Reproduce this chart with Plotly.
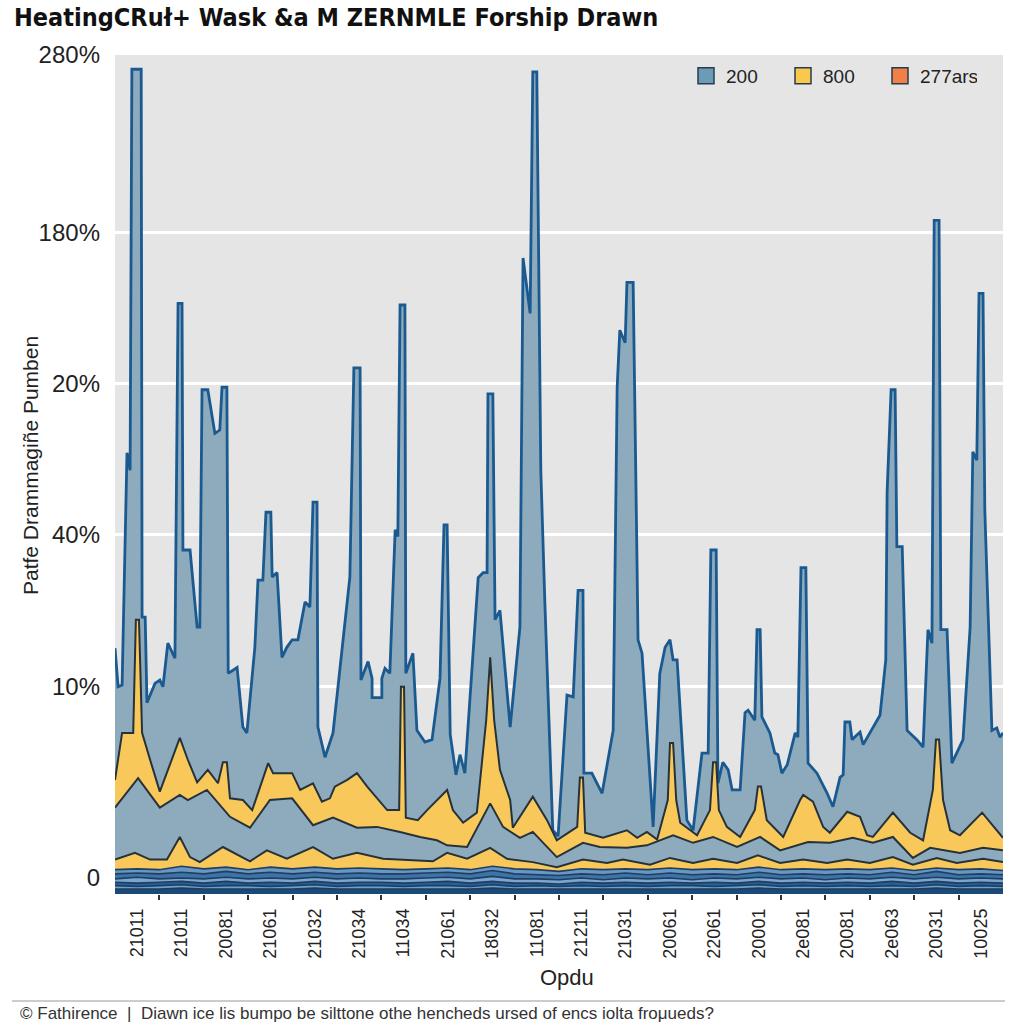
import plotly.graph_objects as go

# ---------------- data ----------------
x_tick_pos = [5, 15, 25, 35, 45, 55, 65, 75, 85, 95, 105, 115, 125, 135, 145, 155, 165, 175, 185, 195]
x_tick_labels = ["21011", "21011", "20081", "21061", "21032", "21034", "11034", "21061", "18032", "11081",
                 "21211", "21031", "20061", "22061", "20001", "2e081", "20081", "2e063", "20031", "10025"]
x_minor_ticks = [10, 20, 30, 40, 50, 60, 70, 80, 90, 100, 110, 120, 130, 140, 150, 160, 170, 180, 190]

y_tick_pos = [1.9, 24.7, 42.8, 60.8, 78.8, 100]
y_tick_labels = ["0", "10%", "40%", "20%", "180%", "280%"]

legend_names = ["200", "800", "277ars"]
legend_colors = ["#6b9cb6", "#f9c94e", "#f08048"]

# total envelope ("200") : (x, value)
total_pts = [(0, 29.3), (0.7, 24.7), (1.6, 24.9), (2.7, 52.6), (3.4, 50.5), (3.8, 98.3), (5.9, 98.3), (6.1, 33.0),
             (6.8, 33.0), (7.2, 22.8), (9.0, 25.1), (10.1, 25.5), (10.8, 24.7), (11.9, 29.9), (13.5, 28.1),
             (14.2, 70.4), (15.1, 70.4), (15.3, 41.0), (16.9, 41.0), (18.5, 31.8), (19.1, 31.8), (19.6, 60.1),
             (20.9, 60.1), (22.5, 54.9), (23.6, 55.3), (24.1, 60.4), (25.2, 60.4), (25.5, 26.3), (27.5, 27.0),
             (28.8, 19.9), (29.7, 19.2), (31.5, 29.4), (32.2, 37.4), (33.3, 37.4), (34.0, 45.5), (35.1, 45.5),
             (35.4, 37.8), (36.5, 38.3), (37.6, 28.2), (38.7, 29.4), (39.9, 30.3), (41.2, 30.3), (42.8, 34.8),
             (43.9, 34.2), (44.6, 46.7), (45.5, 46.7), (45.7, 19.9), (47.3, 16.3), (49.1, 19.2), (52.9, 37.8),
             (53.8, 62.7), (55.2, 62.7), (55.4, 25.5), (57.0, 27.7), (57.9, 25.7), (57.9, 23.4), (60.1, 23.4),
             (60.1, 25.7), (60.8, 26.9), (61.9, 26.3), (63.1, 43.4), (63.7, 42.6), (64.2, 70.2), (65.3, 70.2),
             (65.5, 26.3), (67.1, 28.7), (68.0, 19.5), (69.8, 18.1), (71.4, 18.4), (73.2, 25.7), (74.1, 44.0),
             (74.8, 44.0), (75.5, 19.0), (76.8, 14.2), (77.7, 16.6), (78.8, 14.4), (81.8, 37.7), (82.9, 38.3),
             (83.8, 38.3), (84.0, 59.6), (85.1, 59.6), (85.6, 32.7), (86.7, 33.8), (89.0, 19.9), (91.2, 31.8),
             (91.9, 75.8), (93.5, 69.2), (94.1, 98.0), (95.0, 98.0), (95.9, 50.5), (96.8, 35.0), (98.6, 7.6),
             (99.8, 6.9), (101.8, 23.7), (103.2, 23.5), (104.3, 36.2), (105.4, 36.2), (105.6, 14.4), (107.4, 14.4),
             (108.6, 13.2), (109.7, 12.0), (112.2, 19.5), (113.1, 60.4), (113.7, 67.2), (114.9, 65.7),
             (115.3, 72.9), (116.7, 72.9), (117.6, 38.4), (117.8, 30.3), (118.7, 28.7), (121.2, 8.0),
             (122.7, 26.3), (123.9, 29.4), (125.0, 30.3), (125.7, 27.9), (126.6, 27.9), (128.8, 8.8), (130.2, 7.6),
             (132.2, 16.8), (133.6, 16.8), (134.2, 41.0), (135.4, 41.0), (135.8, 13.2), (136.9, 15.7),
             (138.1, 14.8), (139.0, 12.4), (140.8, 12.4), (141.9, 21.6), (142.6, 21.9), (144.1, 20.7),
             (144.6, 31.5), (145.3, 31.5), (145.7, 21.1), (147.5, 19.2), (148.6, 16.8), (149.3, 16.6),
             (150.2, 14.4), (151.4, 15.4), (153.2, 19.2), (153.8, 18.7), (154.5, 38.9), (155.6, 38.9),
             (156.1, 15.6), (158.1, 14.4), (160.4, 12.0), (161.7, 10.4), (163.3, 13.9), (164.0, 14.2),
             (164.4, 20.5), (165.5, 20.5), (166.0, 18.4), (167.8, 19.3), (168.5, 17.8), (172.3, 21.3),
             (173.6, 27.9), (173.9, 47.9), (174.8, 60.1), (175.7, 60.1), (176.1, 41.4), (177.3, 41.4),
             (178.4, 19.5), (180.6, 18.4), (182.0, 17.5), (183.1, 31.5), (184.0, 29.9), (184.5, 80.3),
             (185.6, 80.3), (186.0, 31.5), (187.4, 31.5), (188.5, 15.6), (191.0, 18.4), (192.6, 31.8),
             (193.2, 52.7), (194.1, 51.7), (194.6, 71.6), (195.5, 71.6), (195.9, 45.8), (197.5, 19.5),
             (198.6, 19.8), (199.3, 18.7), (200, 19.2)]

# upper yellow band top
upper_yellow_pts = [(0, 13.6), (1.6, 19.2), (4.1, 19.2), (4.7, 32.7), (5.4, 32.7), (6.1, 19.2), (7.9, 16.0),
                    (10.1, 12.2), (14.6, 18.6), (16.4, 16.0), (18.5, 13.3), (20.9, 14.8), (23.2, 13.2),
                    (24.3, 15.7), (25.2, 15.7), (25.9, 11.4), (28.8, 11.2), (30.9, 10.0), (34.5, 15.6),
                    (35.6, 14.4), (39.9, 14.4), (41.7, 12.4), (44.6, 13.2), (46.6, 11.0), (48.4, 11.4),
                    (49.5, 12.8), (52.3, 13.6), (54.5, 14.4), (56.8, 12.8), (61.3, 10.0), (64.0, 10.0),
                    (64.4, 24.7), (65.1, 24.7), (65.5, 9.1), (68.2, 8.8), (70.3, 10.0), (74.8, 12.4),
                    (76.1, 10.0), (78.4, 8.5), (81.5, 9.7), (83.6, 20.7), (84.5, 28.2), (85.4, 20.7),
                    (86.7, 14.8), (89.0, 11.2), (89.6, 7.9), (94.1, 11.6), (97.3, 8.8), (99.5, 6.4),
                    (104.1, 8.0), (104.3, 10.0), (104.7, 13.9), (105.4, 13.9), (105.9, 7.3), (109.9, 6.7),
                    (115.3, 7.6), (117.6, 6.7), (119.8, 7.4), (122.1, 6.5), (124.5, 11.2), (125.0, 18.0),
                    (125.7, 18.0), (126.4, 11.2), (127.3, 8.5), (131.1, 7.0), (134.0, 10.0), (134.7, 15.7),
                    (135.4, 15.7), (136.0, 10.0), (137.8, 8.0), (140.8, 6.8), (144.1, 10.0), (144.8, 12.8),
                    (145.5, 12.8), (146.8, 8.8), (150.5, 6.8), (154.3, 11.2), (155.0, 11.8), (157.2, 11.0),
                    (159.5, 8.0), (161.0, 7.3), (164.9, 9.8), (167.8, 9.2), (169.4, 7.0), (170.7, 6.8),
                    (175.2, 9.7), (179.1, 7.3), (182.0, 6.4), (184.2, 12.4), (184.9, 18.4), (185.6, 18.4),
                    (186.5, 11.2), (188.1, 7.6), (190.3, 7.0), (195.3, 9.7), (200, 6.7)]

# middle grey-blue band top
middle_pts = [(0, 10.3), (5.2, 13.8), (10.1, 10.3), (14.6, 11.8), (16.4, 11.2), (20.7, 12.4), (25.9, 9.2),
              (30.4, 7.9), (34.9, 11.2), (39.9, 11.4), (44.6, 8.2), (49.1, 9.1), (54.5, 7.9), (59.0, 8.0),
              (64.2, 7.4), (68.7, 6.8), (72.5, 6.4), (74.8, 5.8), (79.3, 5.6), (84.5, 10.8), (87.4, 8.0),
              (91.2, 6.7), (94.1, 7.4), (99.5, 4.4), (105.4, 6.1), (109.2, 5.6), (115.3, 5.5), (119.8, 5.8),
              (125.7, 7.0), (130.2, 6.1), (134.7, 6.8), (140.1, 5.6), (145.3, 6.8), (149.8, 5.2), (156.1, 6.2),
              (161.0, 6.1), (166.2, 6.7), (170.7, 6.1), (175.2, 6.8), (179.7, 4.3), (183.6, 5.5), (190.3, 4.9),
              (195.5, 5.5), (200, 5.2)]

# lower yellow band top
lower_yellow_pts = [(0, 4.1), (4.5, 4.9), (7.9, 4.1), (11.7, 4.1), (14.6, 6.8), (16.9, 4.4), (19.1, 3.8),
                    (24.3, 5.6), (30.4, 3.9), (34.2, 5.2), (38.7, 4.2), (44.6, 5.6), (49.1, 4.2), (54.5, 4.9),
                    (60.4, 4.2), (71.6, 3.9), (74.8, 4.9), (79.3, 4.2), (84.5, 5.5), (88.3, 4.2), (94.1, 3.8),
                    (99.5, 3.2), (105.4, 4.1), (110.8, 3.7), (114.4, 4.1), (120.5, 3.5), (125.0, 4.3),
                    (130.2, 3.7), (134.7, 4.2), (140.1, 3.7), (144.8, 4.6), (149.8, 3.7), (155.0, 4.1),
                    (160.4, 3.7), (164.9, 4.1), (170.0, 3.7), (175.2, 4.4), (179.7, 3.5), (185.1, 4.3),
                    (189.6, 3.7), (195.5, 4.2), (200, 3.8)]

# thin base bands (common x grid)
base_x = [0, 5, 10, 15, 20, 25, 30, 35, 40, 45, 50, 55, 60, 65, 70, 75, 80, 85, 90, 95, 100,
          105, 110, 115, 120, 125, 130, 135, 140, 145, 150, 155, 160, 165, 170, 175, 180, 185, 190, 195, 200]
band6 = [2.9, 3.0, 2.9, 3.3, 3.0, 3.2, 2.9, 3.2, 3.0, 3.2, 3.0, 3.1, 3.0, 2.9, 3.0, 3.1, 2.9, 3.3, 3.0, 2.9, 2.7,
         3.0, 2.9, 3.0, 2.9, 3.1, 2.9, 3.0, 2.9, 3.2, 2.9, 3.0, 2.9, 3.0, 2.9, 3.1, 2.8, 3.1, 2.9, 3.0, 2.8]
band5 = [2.4, 2.5, 2.4, 2.6, 2.4, 2.7, 2.4, 2.6, 2.4, 2.6, 2.4, 2.5, 2.4, 2.4, 2.5, 2.6, 2.4, 2.8, 2.4, 2.3, 2.2,
         2.4, 2.3, 2.5, 2.3, 2.5, 2.3, 2.4, 2.3, 2.6, 2.3, 2.4, 2.3, 2.4, 2.3, 2.6, 2.3, 2.7, 2.3, 2.4, 2.3]
band4 = [1.8, 2.0, 1.8, 1.9, 1.8, 2.0, 1.8, 1.9, 1.8, 2.0, 1.8, 1.9, 1.8, 1.8, 1.9, 2.0, 1.8, 2.1, 1.8, 1.8, 1.7,
         1.9, 1.7, 1.9, 1.8, 1.9, 1.7, 1.9, 1.8, 2.0, 1.8, 1.9, 1.7, 1.9, 1.8, 2.0, 1.8, 2.0, 1.8, 1.9, 1.8]
band3 = [1.4, 1.3, 1.4, 1.5, 1.3, 1.5, 1.3, 1.4, 1.3, 1.5, 1.3, 1.4, 1.4, 1.3, 1.4, 1.5, 1.3, 1.5, 1.3, 1.3, 1.2,
         1.4, 1.3, 1.4, 1.3, 1.4, 1.3, 1.4, 1.3, 1.5, 1.3, 1.4, 1.3, 1.4, 1.3, 1.5, 1.3, 1.5, 1.3, 1.4, 1.3]
band2 = [1.0, 0.9, 1.0, 1.1, 0.9, 1.0, 1.0, 0.9, 1.0, 1.1, 0.9, 1.0, 1.0, 0.9, 1.0, 1.0, 0.9, 1.1, 0.9, 1.0, 0.9,
         1.0, 0.9, 1.0, 0.9, 1.0, 1.0, 0.9, 1.0, 1.1, 0.9, 1.0, 0.9, 1.0, 0.9, 1.0, 0.9, 1.1, 0.9, 1.0, 0.9]
band1 = [0.6, 0.6, 0.6, 0.7, 0.6, 0.6, 0.6, 0.6, 0.6, 0.7, 0.6, 0.6, 0.6, 0.6, 0.6, 0.6, 0.6, 0.7, 0.6, 0.6, 0.6,
         0.6, 0.6, 0.6, 0.6, 0.6, 0.6, 0.6, 0.6, 0.7, 0.6, 0.6, 0.6, 0.6, 0.6, 0.6, 0.6, 0.7, 0.6, 0.6, 0.6]

# ---------------- styling ----------------
GREYBLUE = "#8eabbd"
YELLOW = "#f8c95a"
DARK = "#26323a"
FONT = "Liberation Sans, Arial, sans-serif"

PLOT_L, PLOT_R, PLOT_T, PLOT_B = 115, 1003, 55, 894
PW, PH = PLOT_R - PLOT_L, PLOT_B - PLOT_T

fig = go.Figure()


def add_area(xs, ys, fill, line_color, width):
    fig.add_trace(go.Scatter(x=xs, y=ys, mode="lines", fill="tozeroy", fillcolor=fill,
                             line=dict(color=line_color, width=width), showlegend=False,
                             hoverinfo="skip"))


def unzip(pts):
    return [p[0] for p in pts], [p[1] for p in pts]


for pts, fill, lc, w in [(total_pts, GREYBLUE, "#1a5a90", 2.8),
                         (upper_yellow_pts, YELLOW, DARK, 2.0),
                         (middle_pts, GREYBLUE, DARK, 2.0),
                         (lower_yellow_pts, YELLOW, DARK, 2.0)]:
    xs, ys = unzip(pts)
    add_area(xs, ys, fill, lc, w)

for vals, fill in [(band6, "#6a96c2"), (band5, "#3f73a5"), (band4, "#79a6cf"),
                   (band3, "#2a5f90"), (band2, "#6fa0cc"), (band1, "#1b4a78")]:
    add_area(base_x, vals, fill, "#1d3f63", 1.6)

for name, color in zip(legend_names, legend_colors):
    fig.add_trace(go.Scatter(x=[None], y=[None], mode="markers", name=name,
                             marker=dict(symbol="square", size=16, color=color,
                                         line=dict(color="#2a3b4c", width=1.5))))


def px_x(p):
    return (p - PLOT_L) / PW


def px_y(p):
    return (PLOT_B - p) / PH


fig.update_layout(
    width=1024, height=1024,
    margin=dict(l=PLOT_L, r=1024 - PLOT_R, t=PLOT_T, b=1024 - PLOT_B, pad=0, autoexpand=False),
    paper_bgcolor="white", plot_bgcolor="#e5e5e5",
    font=dict(family=FONT, color="#222222"),
    title=dict(text="<b>HeatingCRuł+ Wask &amp;a M ZERNMLE Forship Drawn</b>",
               x=14 / 1024, xref="container", xanchor="left",
               y=1 - 17 / 1024, yref="container", yanchor="middle",
               font=dict(family="Liberation Sans Narrow, DejaVu Sans Condensed, Arial Narrow, sans-serif",
                         size=25, color="#111111")),
    legend=dict(orientation="h", x=px_x(686), xanchor="left", y=px_y(57), yanchor="top",
                bgcolor="rgba(0,0,0,0)", font=dict(size=19, color="#222222"),
                entrywidth=52, entrywidthmode="pixels"),
    xaxis=dict(range=[0, 200], tickmode="array", tickvals=x_tick_pos, ticktext=x_tick_labels,
               tickangle=-90, ticks="", showgrid=False, zeroline=False, showline=False,
               tickfont=dict(size=18, color="#222222"), ticklabelstandoff=10,
               minor=dict(tickmode="array", tickvals=x_minor_ticks, ticks="outside", ticklen=5,
                          tickcolor="#333333", tickwidth=1.5, showgrid=False)),
    yaxis=dict(range=[0, 100], tickmode="array", tickvals=y_tick_pos, ticktext=y_tick_labels,
               ticks="", showgrid=True, gridcolor="white", gridwidth=3, zeroline=False,
               showline=False, tickfont=dict(size=24, color="#222222"), ticklabelstandoff=14),
    annotations=[
        dict(text="Patfe Drammagiñe Pumben", textangle=-90, xref="paper", yref="paper",
             x=px_x(31), y=px_y(466), xanchor="center", yanchor="middle", showarrow=False,
             font=dict(size=21, color="#222222")),
        dict(text="Opdu", xref="paper", yref="paper", x=px_x(567), y=px_y(977),
             xanchor="center", yanchor="middle", showarrow=False, font=dict(size=22, color="#222222")),
        dict(text="© Fathirence  |  Diawn ice lis bumpo be silttone othe hencheds ursed of encs iolta froμueds?",
             xref="paper", yref="paper", x=px_x(18), y=px_y(1014),
             xanchor="left", yanchor="middle", showarrow=False, font=dict(size=17, color="#333333")),
    ],
    shapes=[dict(type="line", xref="paper", yref="paper", x0=px_x(12), x1=px_x(1005),
                 y0=px_y(1001), y1=px_y(1001), line=dict(color="#999999", width=1))],
)

fig.write_html("out.html", config={"displayModeBar": False},
               post_script="document.body.style.margin='0';document.body.style.padding='0';")
